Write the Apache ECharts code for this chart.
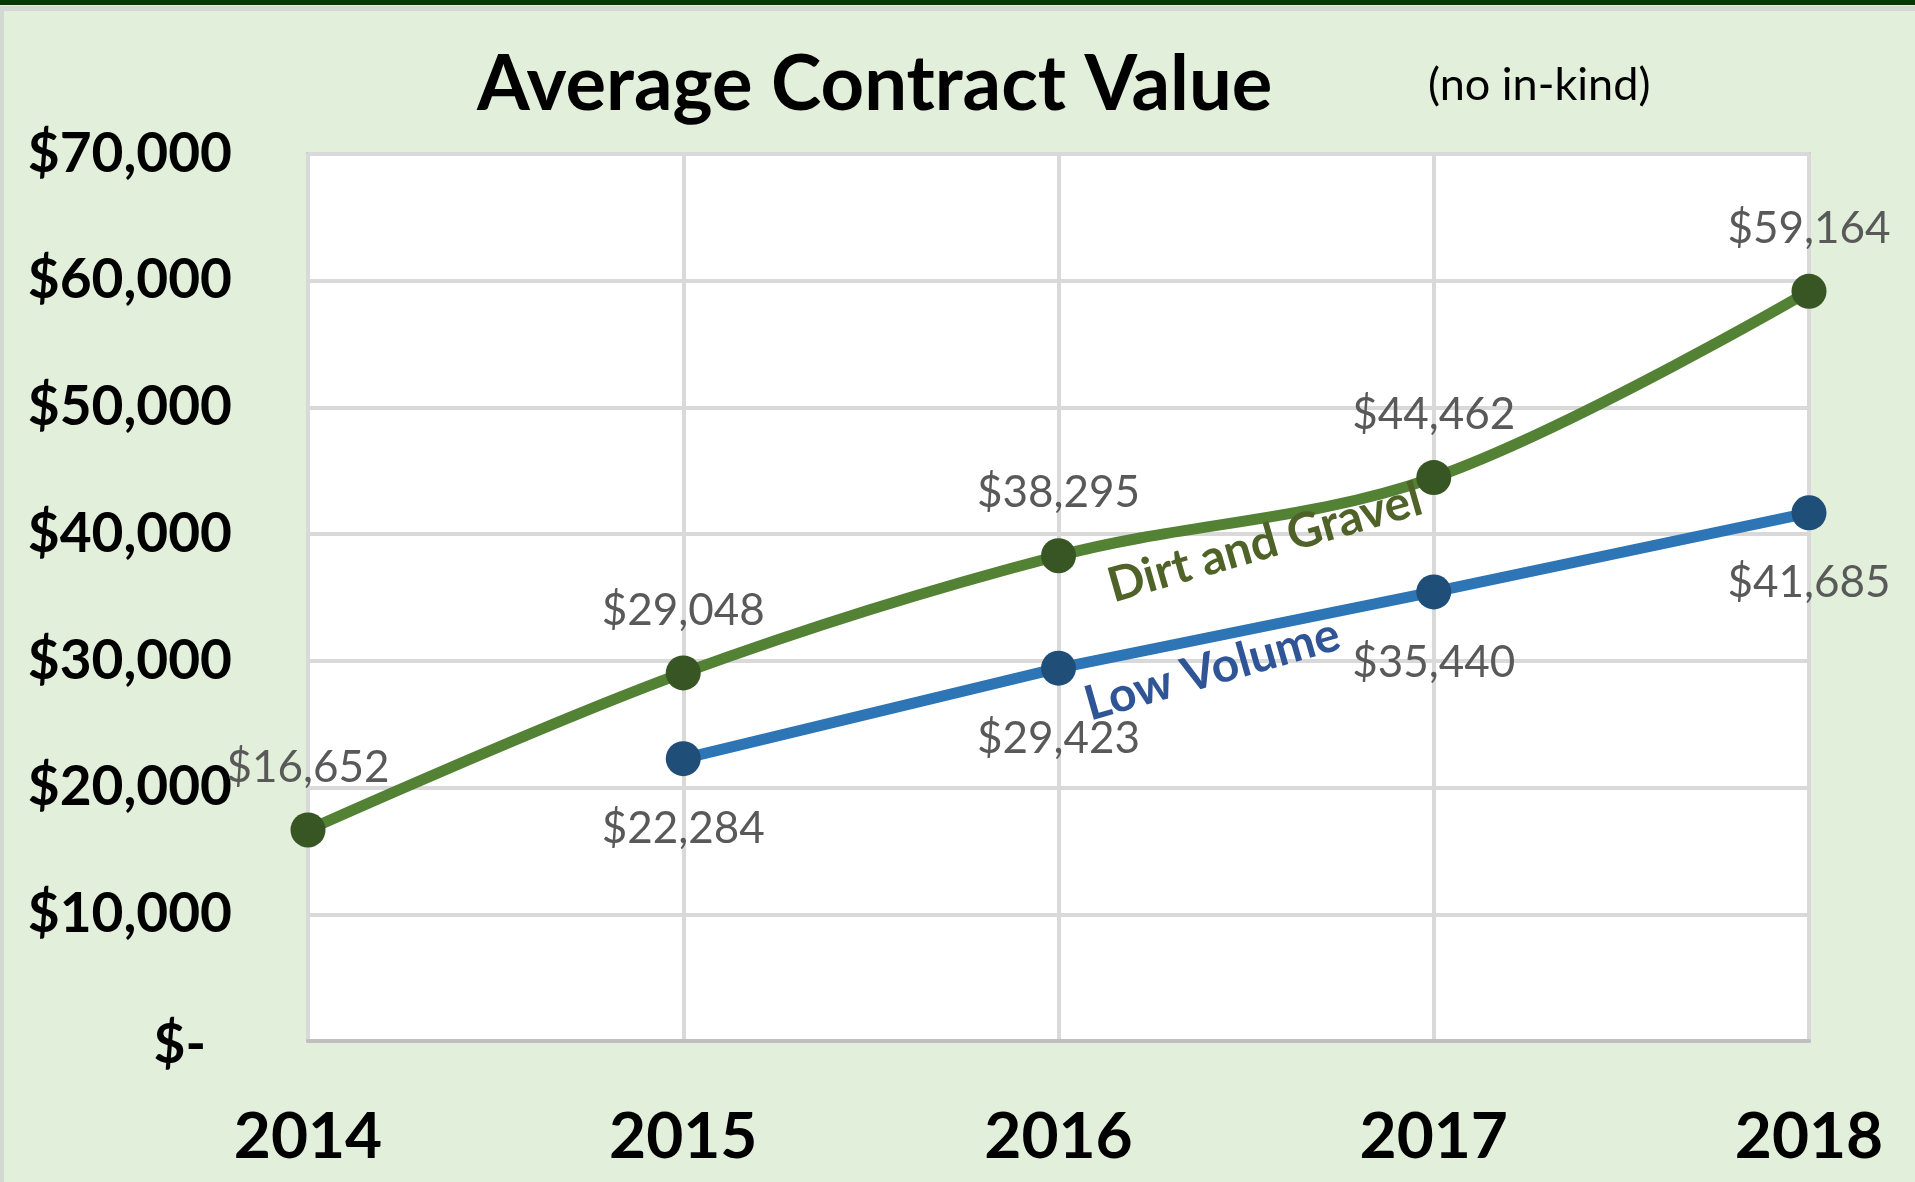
<!DOCTYPE html>
<html>
<head>
    <meta charset="utf-8">
    <title>ECharts</title>
    <script src="https://cdn.jsdelivr.net/npm/echarts@6/dist/echarts.min.js"></script>
    <style>
        body { margin: 0; background: #E2EFDA; }
    </style>
</head>
<body>
<div id="main" style="width: 1915px;height:1182px;"></div>
<script type="text/javascript">
    // data
    var years = ['2014', '2015', '2016', '2017', '2018'];
    var dirtGravel = [16652, 29048, 38295, 44462, 59164];
    var lowVolume = [null, 22284, 29423, 35440, 41685];
    var yTicks = [0, 10000, 20000, 30000, 40000, 50000, 60000, 70000];

    var fontFamily = 'Lato, "Open Sans", sans-serif';

    function money(v) {
        return '$' + Math.round(v).toString().replace(/\B(?=(\d{3})+(?!\d))/g, ',');
    }

    var myChart = echarts.init(document.getElementById('main'));

    var option = {
        backgroundColor: '#E2EFDA',
        animation: false,
        textStyle: { fontFamily: fontFamily },
        title: [{
            text: 'Average Contract Value',
            left: 472, top: 42,
            textStyle: { fontSize: 76, fontWeight: 'bold', color: '#000', fontFamily: fontFamily }
        }, {
            text: '(no in-kind)',
            left: 1423, top: 58,
            textStyle: { fontSize: 45, fontWeight: 'normal', color: '#000', fontFamily: fontFamily }
        }],
        grid: {
            left: 308, right: 106, top: 154, bottom: 141,
            show: true, backgroundColor: '#fff', borderColor: '#D0D0D0', borderWidth: 4
        },
        xAxis: {
            type: 'category',
            data: years,
            boundaryGap: false,
            axisLine: { show: true, lineStyle: { color: '#BFBFBF', width: 4 } },
            axisTick: { show: false },
            splitLine: { show: true, lineStyle: { color: '#D9D9D9', width: 4 } },
            axisLabel: { fontSize: 64, fontWeight: 'bold', color: '#000', margin: 64, fontFamily: fontFamily }
        },
        yAxis: {
            type: 'value',
            min: yTicks[0], max: yTicks[yTicks.length - 1], interval: 10000,
            axisLine: { show: false },
            axisTick: { show: false },
            splitLine: { lineStyle: { color: '#D9D9D9', width: 4 } },
            axisLabel: {
                fontSize: 55, fontWeight: 'bold', color: '#000', margin: 76, fontFamily: fontFamily,
                formatter: function (v) { return v === 0 ? '{z|$-}' : money(v); },
                rich: { z: { fontSize: 55, fontWeight: 'bold', color: '#000', padding: [8, 26, 0, 0], fontFamily: fontFamily } }
            }
        },
        series: [{
            name: 'Dirt and Gravel',
            type: 'line',
            data: dirtGravel,
            smooth: 0.35,
            symbol: 'circle', symbolSize: 35,
            lineStyle: { color: '#548235', width: 11 },
            itemStyle: { color: '#375623' },
            label: {
                show: true, position: 'top', distance: 23,
                fontSize: 44, color: '#595959', fontFamily: fontFamily,
                formatter: function (p) { return money(p.value); }
            },
            z: 3
        }, {
            name: 'Low Volume',
            type: 'line',
            data: lowVolume,
            symbol: 'circle', symbolSize: 35,
            lineStyle: { color: '#2E75B6', width: 11 },
            itemStyle: { color: '#1F4E79' },
            label: {
                show: true, position: 'bottom', distance: 31,
                fontSize: 44, color: '#595959', fontFamily: fontFamily,
                formatter: function (p) { return money(p.value); }
            },
            z: 2
        }]
    };
    myChart.setOption(option);

    // category axis snaps to whole indices, so interpolate between neighbours
    function toPixel(idx, value) {
        var i0 = Math.floor(idx);
        var a = myChart.convertToPixel({ gridIndex: 0 }, [i0, value]);
        var b = myChart.convertToPixel({ gridIndex: 0 }, [i0 + 1, value]);
        var f = idx - i0;
        return [a[0] + (b[0] - a[0]) * f, a[1]];
    }

    // series names written along the lines
    var dgPos = toPixel(2.55, 39300);
    var lvPos = toPixel(2.41, 29300);
    myChart.setOption({
        graphic: [
            { type: 'rect', left: 0, top: 0, shape: { width: 1915, height: 5 }, style: { fill: '#033803' }, z: 10 },
            { type: 'rect', left: 0, top: 6, shape: { width: 1915, height: 5 }, style: { fill: '#D4D8D2' }, z: 10 },
            { type: 'rect', left: 0, top: 6, shape: { width: 4, height: 1176 }, style: { fill: '#D4D8D2' }, z: 10 },
            {
                type: 'text', x: dgPos[0], y: dgPos[1], rotation: 16 * Math.PI / 180, z: 10,
                style: { text: 'Dirt and Gravel', fontSize: 48, fontWeight: 'bold', fill: '#4F6228',
                    fontFamily: fontFamily, align: 'center', verticalAlign: 'middle' }
            },
            {
                type: 'text', x: lvPos[0], y: lvPos[1], rotation: 16 * Math.PI / 180, z: 10,
                style: { text: 'Low Volume', fontSize: 48, fontWeight: 'bold', fill: '#2F5597',
                    fontFamily: fontFamily, align: 'center', verticalAlign: 'middle' }
            }
        ]
    });
</script>
</body>
</html>
